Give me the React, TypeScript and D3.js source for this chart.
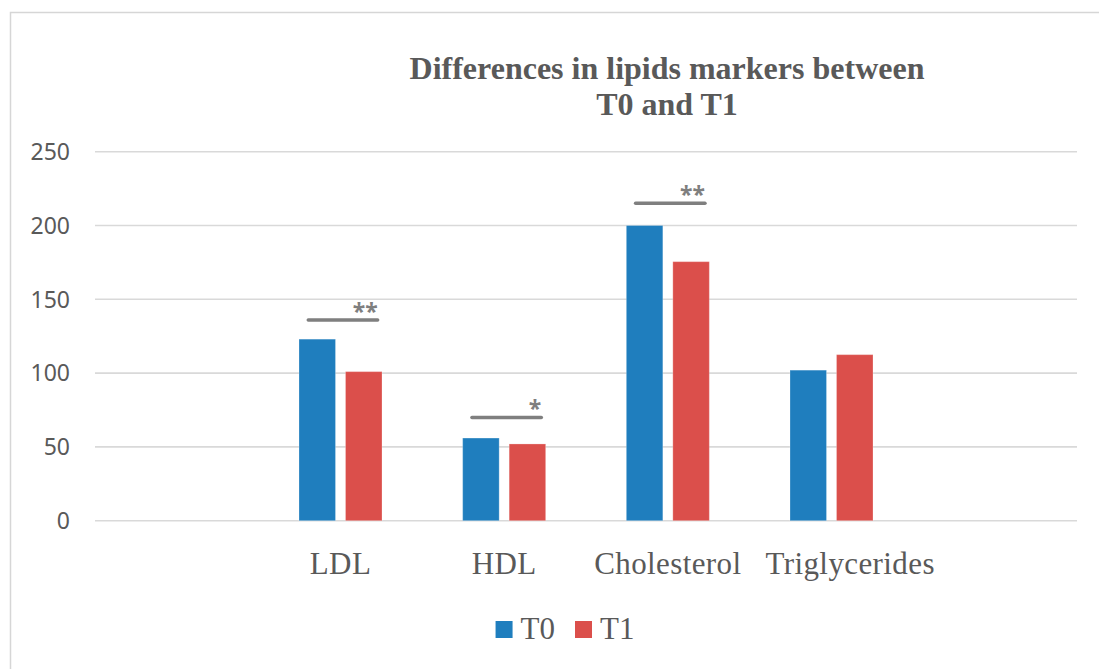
import React, { useEffect, useRef } from "react";
import * as d3 from "d3";

const categories = ["LDL", "HDL", "Cholesterol", "Triglycerides"];
const seriesNames = ["T0", "T1"];
const t0Values = [123, 56, 200, 102];
const t1Values = [101, 52, 175.5, 112.5];
const sigLevels: (number | null)[] = [136, 70, 215, null];
const sigMarks = ["**", "*", "**", ""];
const yTicks = [0, 50, 100, 150, 200, 250];
const titleLines = ["Differences in lipids markers between", "T0 and T1"];
const seriesColors = ["#1f7ebe", "#db4f4b"];

const W = 1099;
const H = 669;

export default function App() {
  const ref = useRef<SVGSVGElement | null>(null);

  useEffect(() => {
    const svg = d3.select(ref.current);
    svg.selectAll("*").remove();

    const textColor = "#595959";
    const serif = "'Liberation Serif', 'Times New Roman', serif";
    const sans = "'Noto Sans', 'Open Sans', sans-serif";

    // outer chart border (extends beyond the right/bottom edges)
    svg
      .append("rect")
      .attr("x", 10.5)
      .attr("y", 12.5)
      .attr("width", 1400)
      .attr("height", 800)
      .attr("fill", "#ffffff")
      .attr("stroke", "#d6d6d6")
      .attr("stroke-width", 1.5);

    // title
    const title = svg
      .append("text")
      .attr("x", 667)
      .attr("text-anchor", "middle")
      .attr("font-family", serif)
      .attr("font-weight", "bold")
      .attr("font-size", 32)
      .attr("fill", textColor);
    titleLines.forEach((line, i) => {
      title
        .append("tspan")
        .attr("x", 667)
        .attr("y", 79 + i * 36)
        .text(line);
    });

    const plotLeft = 95;
    const plotRight = 1077;
    const slots = ["__pre", ...categories, "__post"];
    const x0 = d3.scaleBand<string>().domain(slots).range([plotLeft, plotRight]);
    const y = d3.scaleLinear().domain([0, 250]).range([520.7, 151.7]);

    // gridlines
    svg
      .append("g")
      .selectAll("line")
      .data(yTicks)
      .join("line")
      .attr("x1", plotLeft)
      .attr("x2", plotRight)
      .attr("y1", (d) => y(d))
      .attr("y2", (d) => y(d))
      .attr("stroke", "#d9d9d9")
      .attr("stroke-width", 1.6);

    // y tick labels
    svg
      .append("g")
      .selectAll("text")
      .data(yTicks)
      .join("text")
      .attr("x", 70)
      .attr("y", (d) => y(d))
      .attr("dy", "0.36em")
      .attr("text-anchor", "end")
      .attr("font-family", sans)
      .attr("font-size", 23)
      .attr("fill", textColor)
      .text((d) => String(d));

    // bars
    const bw = x0.bandwidth();
    const x1 = d3
      .scaleBand<string>()
      .domain(seriesNames)
      .range([bw / 2 - 41.5, bw / 2 + 41.5])
      .paddingInner(0.215);
    const seriesValues = [t0Values, t1Values];
    seriesNames.forEach((s, si) => {
      svg
        .append("g")
        .selectAll("rect")
        .data(categories.map((c, i) => ({ c, v: seriesValues[si][i] })))
        .join("rect")
        .attr("x", (d) => (x0(d.c) as number) + (x1(s) as number))
        .attr("width", x1.bandwidth())
        .attr("y", (d) => y(d.v))
        .attr("height", (d) => y(0) - y(d.v))
        .attr("fill", seriesColors[si])
        .attr("stroke", "rgba(255,255,255,0.25)")
        .attr("stroke-width", 1);
    });

    // significance lines and marks
    const sigData = categories
      .map((c, i) => ({ c, level: sigLevels[i], mark: sigMarks[i] }))
      .filter((d) => d.level !== null);
    const sigG = svg.append("g");
    sigG
      .selectAll("line")
      .data(sigData)
      .join("line")
      .attr("x1", (d) => (x0(d.c) as number) + bw * 0.303)
      .attr("x2", (d) => (x0(d.c) as number) + bw * 0.727)
      .attr("y1", (d) => y(d.level as number))
      .attr("y2", (d) => y(d.level as number))
      .attr("stroke", "#7f7f7f")
      .attr("stroke-width", 3.5)
      .attr("stroke-linecap", "round");
    sigG
      .selectAll("text")
      .data(sigData)
      .join("text")
      .attr("x", (d) => (x0(d.c) as number) + bw * 0.727)
      .attr("y", (d) => y(d.level as number))
      .attr("text-anchor", "end")
      .attr("font-family", sans)
      .attr("font-weight", "bold")
      .attr("font-size", 23)
      .attr("fill", "#7f7f7f")
      .text((d) => d.mark);

    // x category labels (with overlap avoidance)
    const xl = svg
      .append("g")
      .selectAll("text")
      .data(categories)
      .join("text")
      .attr("x", (d) => (x0(d) as number) + bw / 2)
      .attr("y", 574)
      .attr("text-anchor", "middle")
      .attr("font-family", serif)
      .attr("font-size", 31)
      .attr("letter-spacing", 0.4)
      .attr("fill", textColor)
      .text((d) => d);
    let prevRight = -Infinity;
    const minGap = 24;
    xl.each(function (d) {
      const el = this as SVGTextElement;
      const w = el.getComputedTextLength();
      let cx = (x0(d) as number) + bw / 2;
      if (cx - w / 2 < prevRight + minGap) cx = prevRight + minGap + w / 2;
      d3.select(el).attr("x", cx);
      prevRight = cx + w / 2;
    });

    // legend
    const legend = svg.append("g");
    const sq = 17;
    const gapSqText = 8;
    const gapItems = 20;
    const items = seriesNames.map((s, i) => {
      const g = legend.append("g");
      g.append("rect")
        .attr("width", sq)
        .attr("height", sq)
        .attr("y", 621)
        .attr("fill", seriesColors[i]);
      const t = g
        .append("text")
        .attr("y", 639)
        .attr("font-family", serif)
        .attr("font-size", 31)
        .attr("fill", textColor)
        .text(s);
      const tw = (t.node() as SVGTextElement).getComputedTextLength();
      return { g, t, tw };
    });
    const total =
      items.reduce((a, it) => a + sq + gapSqText + it.tw, 0) + gapItems * (items.length - 1);
    let cur = 565 - total / 2;
    items.forEach((it) => {
      it.g.select("rect").attr("x", cur);
      it.t.attr("x", cur + sq + gapSqText);
      cur += sq + gapSqText + it.tw + gapItems;
    });
  }, []);

  return (
    <svg
      ref={ref}
      width={W}
      height={H}
      style={{ position: "absolute", left: 0, top: 0, background: "#ffffff" }}
    />
  );
}
